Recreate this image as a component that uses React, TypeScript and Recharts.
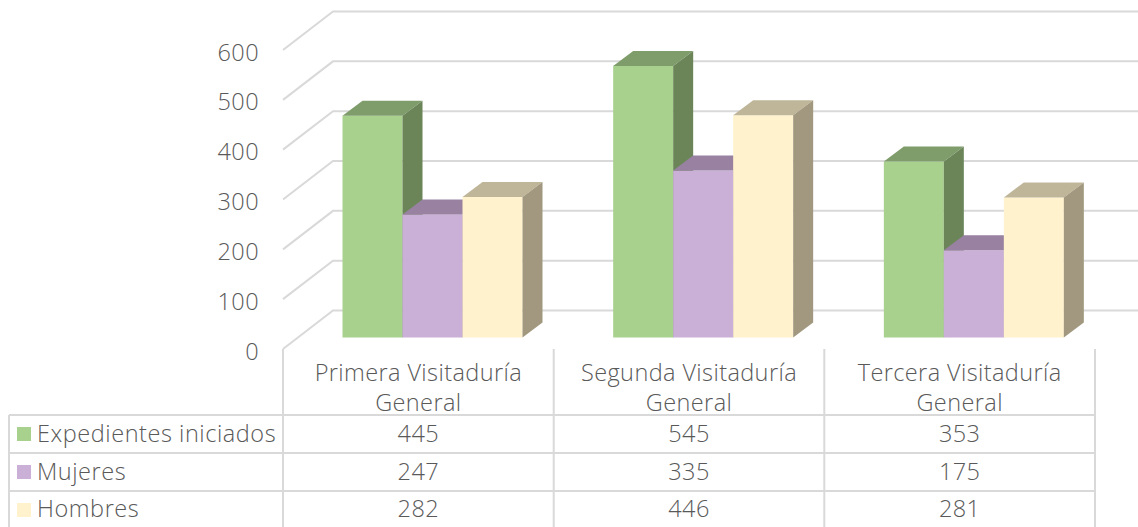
import React from "react";
import { BarChart, Bar, XAxis, YAxis, CartesianGrid } from "recharts";

const categories = [
  ["Primera Visitaduría", "General"],
  ["Segunda Visitaduría", "General"],
  ["Tercera Visitaduría", "General"],
];
const expedientes = [445, 545, 353];
const mujeres = [247, 335, 175];
const hombres = [282, 446, 281];
const yTicks = [0, 100, 200, 300, 400, 500, 600];

const seriesNames = ["Expedientes iniciados", "Mujeres", "Hombres"];
const seriesValues = [expedientes, mujeres, hombres];
const colors = ["#A9D18E", "#CAAFD7", "#FFF2CC"];
const topColors = ["#7F9D6B", "#9881A1", "#BFB699"];
const sideColors = ["#6B8559", "#846F8C", "#A1987F"];

const data = categories.map((c, i) => ({
  name: c.join(" "),
  expedientes: expedientes[i],
  mujeres: mujeres[i],
  hombres: hombres[i],
}));

const FONT = "'Open Sans', sans-serif";
const TEXT = "#595959";
const LINE = "#D9D9D9";
const FS = 23.5;
const SPACING = 0.4;
const DEPTH_X = 20;
const DEPTH_Y = 15;
const TABLE_SHIFT = 14.5; // table columns sit a bit left of the bars
const colX = [283, 553.7, 824.3, 1095];
const rowY = [415, 453, 491];
const rowText = [442, 480, 517];

const textStyle = { fontFamily: FONT, fontWeight: 300, fontSize: FS, fill: TEXT, letterSpacing: SPACING };

// 3d box: front, top and side faces
const Box = (seriesIdx: number) => (props: any) => {
  const { x, y, width, height } = props;
  const dx = DEPTH_X;
  const dy = DEPTH_Y;
  return (
    <g>
      <rect x={x} y={y} width={width} height={height} fill={colors[seriesIdx]} />
      <polygon
        points={`${x},${y} ${x + dx},${y - dy} ${x + width + dx},${y - dy} ${x + width},${y}`}
        fill={topColors[seriesIdx]}
      />
      <polygon
        points={`${x + width},${y} ${x + width + dx},${y - dy} ${x + width + dx},${y + height - dy} ${x + width},${y + height}`}
        fill={sideColors[seriesIdx]}
      />
    </g>
  );
};

// gridline runs along the side wall and then the back wall
const gridLine = (props: any) => {
  const y = props.y1;
  return (
    <polyline
      key={y}
      points={`283,${y + 11.5} 333,${y - 27} 1138,${y - 27}`}
      fill="none"
      stroke={LINE}
      strokeWidth={2}
    />
  );
};

const YTick = (props: any) => (
  <text x={259} y={props.y + 22} textAnchor="end" {...textStyle}>
    {props.payload.value}
  </text>
);

const XTick = (props: any) => {
  const i = props.index;
  const cx = props.x - TABLE_SHIFT;
  return (
    <g>
      <text x={cx} textAnchor="middle" {...textStyle} y={381}>{categories[i][0]}</text>
      <text x={cx} textAnchor="middle" {...textStyle} y={411}>{categories[i][1]}</text>
      {seriesValues.map((vals, r) => (
        <text key={r} x={cx} textAnchor="middle" {...textStyle} y={rowText[r]}>{vals[i]}</text>
      ))}
    </g>
  );
};

const App: React.FC = () => {
  return (
    <div style={{ position: "absolute", left: 0, top: 0, width: 1138, height: 527, background: "#fff" }}>
      <BarChart
        width={1138}
        height={527}
        data={data}
        barSize={60}
        barGap={0}
        margin={{ top: 38.5, right: 28.5, left: 237.5, bottom: 9.5 }}
      >
        <CartesianGrid vertical={false} horizontal={gridLine} />
        <XAxis dataKey="name" height={180} axisLine={false} tickLine={false} interval={0} tick={XTick} />
        <YAxis width={60} domain={[0, 600]} ticks={yTicks} axisLine={false} tickLine={false} tick={YTick} />
        <Bar dataKey="expedientes" isAnimationActive={false} shape={Box(0)} />
        <Bar dataKey="mujeres" isAnimationActive={false} shape={Box(1)} />
        <Bar dataKey="hombres" isAnimationActive={false} shape={Box(2)} />
        {/* data table below the plot */}
        <g stroke={LINE} strokeWidth={2}>
          {colX.map((x) => (
            <line key={x} x1={x} x2={x} y1={349} y2={527} />
          ))}
          <line x1={9} x2={9} y1={415} y2={527} />
          {rowY.map((y) => (
            <line key={y} x1={9} x2={1095} y1={y} y2={y} />
          ))}
        </g>
        {seriesNames.map((name, r) => (
          <g key={name}>
            <rect x={17} y={rowY[r] + 12} width={14} height={14} fill={colors[r]} />
            <text x={37} y={rowText[r]} {...textStyle} letterSpacing={0.55}>
              {name}
            </text>
          </g>
        ))}
      </BarChart>
    </div>
  );
};

export default App;
